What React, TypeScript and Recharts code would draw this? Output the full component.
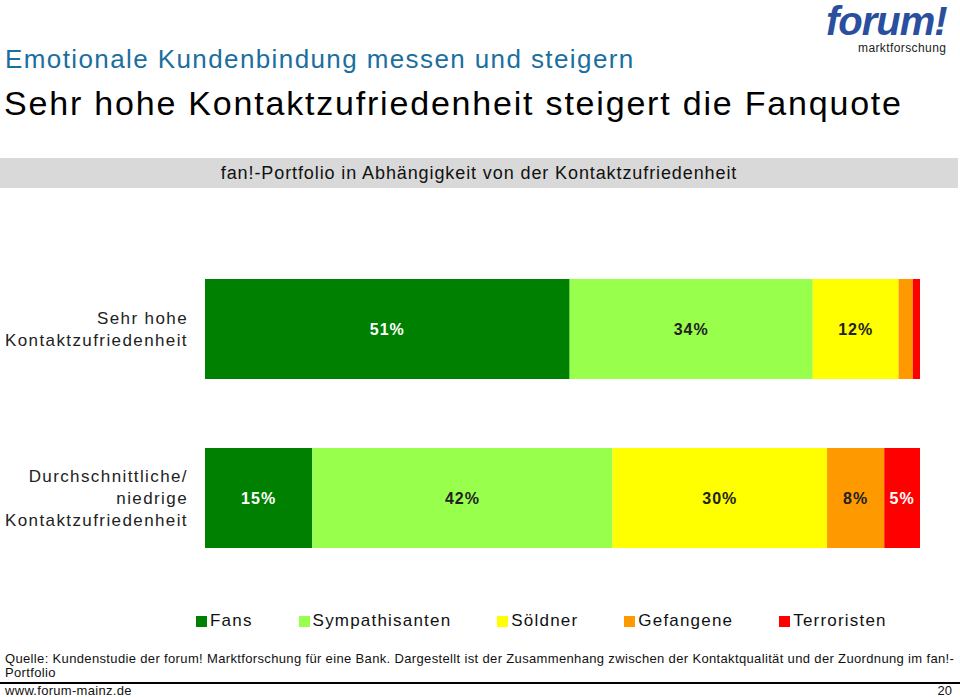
import React from 'react';
import { BarChart, Bar, XAxis, YAxis, Legend, LabelList } from 'recharts';

const categories = ['Sehr hohe\nKontaktzufriedenheit', 'Durchschnittliche/\nniedrige\nKontaktzufriedenheit'];
const fans = [51, 15];
const sympathisanten = [34, 42];
const soeldner = [12, 30];
const gefangene = [2, 8];
const terroristen = [1, 5];

const seriesNames = ['Fans', 'Sympathisanten', 'Söldner', 'Gefangene', 'Terroristen'];
const seriesKeys = ['fans', 'sympathisanten', 'soeldner', 'gefangene', 'terroristen'];
const colors = ['#008000', '#99ff4d', '#ffff00', '#ff9900', '#ff0000'];
const labelColors = ['#ffffff', '#222222', '#222222', '#222222', '#ffffff'];

const data = categories.map((name, i) => ({
  name,
  fans: fans[i],
  sympathisanten: sympathisanten[i],
  soeldner: soeldner[i],
  gefangene: gefangene[i],
  terroristen: terroristen[i],
}));

const FONT = '"Liberation Sans", Arial, sans-serif';

const CategoryTick = (props: any) => {
  const { x, y, payload } = props;
  const lines: string[] = String(payload.value).split('\n');
  const lh = 22;
  const start = y - ((lines.length - 1) * lh) / 2;
  return (
    <g>
      {lines.map((l, i) => (
        <text
          key={i}
          x={x - 9}
          y={start + i * lh}
          dy={6}
          textAnchor="end"
          fontFamily={FONT}
          fontSize={17}
          letterSpacing={1.4}
          fill="#222"
        >
          {l}
        </text>
      ))}
    </g>
  );
};

const makeLabel = (color: string) => (props: any) => {
  const { x, y, width, height, value } = props;
  if (value < 5) return null;
  return (
    <text
      x={x + width / 2}
      y={y + height / 2}
      dy={6}
      textAnchor="middle"
      fontFamily={FONT}
      fontSize={16}
      fontWeight="bold"
      letterSpacing={1}
      fill={color}
    >
      {value}%
    </text>
  );
};

const LegendContent = () => (
  <div style={{ display: 'flex', fontFamily: FONT, fontSize: 17, letterSpacing: 1.2, color: '#111', lineHeight: '20px' }}>
    {seriesNames.map((n, i) => (
      <div key={n} style={{ display: 'flex', alignItems: 'center', marginRight: 46 }}>
        <span style={{ width: 11, height: 11, background: colors[i], display: 'inline-block', marginRight: 3 }} />
        <span>{n}</span>
      </div>
    ))}
  </div>
);

export default function App() {
  return (
    <div style={{ position: 'absolute', left: 0, top: 0, width: 960, height: 697, background: '#fff', overflow: 'hidden', fontFamily: FONT }}>
      {/* logo */}
      <div style={{ position: 'absolute', left: 826, top: 2, fontSize: 40, lineHeight: '38px', fontWeight: 'bold', fontStyle: 'italic', color: '#2a4f9e', letterSpacing: -1 }}>
        forum!
      </div>
      <div style={{ position: 'absolute', left: 858, top: 42, fontSize: 12, lineHeight: '12px', color: '#222', letterSpacing: 0.4 }}>marktforschung</div>

      <div style={{ position: 'absolute', left: 5, top: 44, fontSize: 26, color: '#1a6fa0', letterSpacing: 1.4, whiteSpace: 'nowrap' }}>
        Emotionale Kundenbindung messen und steigern
      </div>
      <div style={{ position: 'absolute', left: 4, top: 84, fontSize: 34, color: '#000', letterSpacing: 1.8, whiteSpace: 'nowrap' }}>
        Sehr hohe Kontaktzufriedenheit steigert die Fanquote
      </div>

      <div style={{ position: 'absolute', left: 0, top: 158, width: 958, height: 30, background: '#d9d9d9', display: 'flex', alignItems: 'center', justifyContent: 'center', fontSize: 18, letterSpacing: 0.9, color: '#111' }}>
        fan!-Portfolio in Abhängigkeit von der Kontaktzufriedenheit
      </div>

      <div style={{ position: 'absolute', left: 0, top: 244 }}>
        <BarChart width={960} height={400} data={data} layout="vertical" margin={{ top: 0, right: 40, bottom: 42, left: 0 }} barSize={100}>
          <XAxis type="number" domain={[0, 100]} hide />
          <YAxis type="category" dataKey="name" width={205} axisLine={false} tickLine={false} tick={<CategoryTick />} />
          <Legend content={<LegendContent />} wrapperStyle={{ left: 196, top: 367, width: 'auto' }} />
          {seriesKeys.map((k, i) => (
            <Bar key={k} dataKey={k} name={seriesNames[i]} stackId="a" fill={colors[i]} isAnimationActive={false}>
              <LabelList dataKey={k} content={makeLabel(labelColors[i])} />
            </Bar>
          ))}
        </BarChart>
      </div>

      <div style={{ position: 'absolute', left: 5, top: 652, fontSize: 13, color: '#111', lineHeight: '14px', whiteSpace: 'nowrap', letterSpacing: 0.35 }}>
        Quelle: Kundenstudie der forum! Marktforschung für eine Bank. Dargestellt ist der Zusammenhang zwischen der Kontaktqualität und der Zuordnung im fan!-
        <br />
        Portfolio
      </div>
      <div style={{ position: 'absolute', left: 0, top: 682, width: 960, height: 2, background: '#000' }} />
      <div style={{ position: 'absolute', left: 5, top: 683, fontSize: 13, color: '#111', letterSpacing: 0.3 }}>www.forum-mainz.de</div>
      <div style={{ position: 'absolute', right: 8, top: 683, fontSize: 13, color: '#111' }}>20</div>
    </div>
  );
}
